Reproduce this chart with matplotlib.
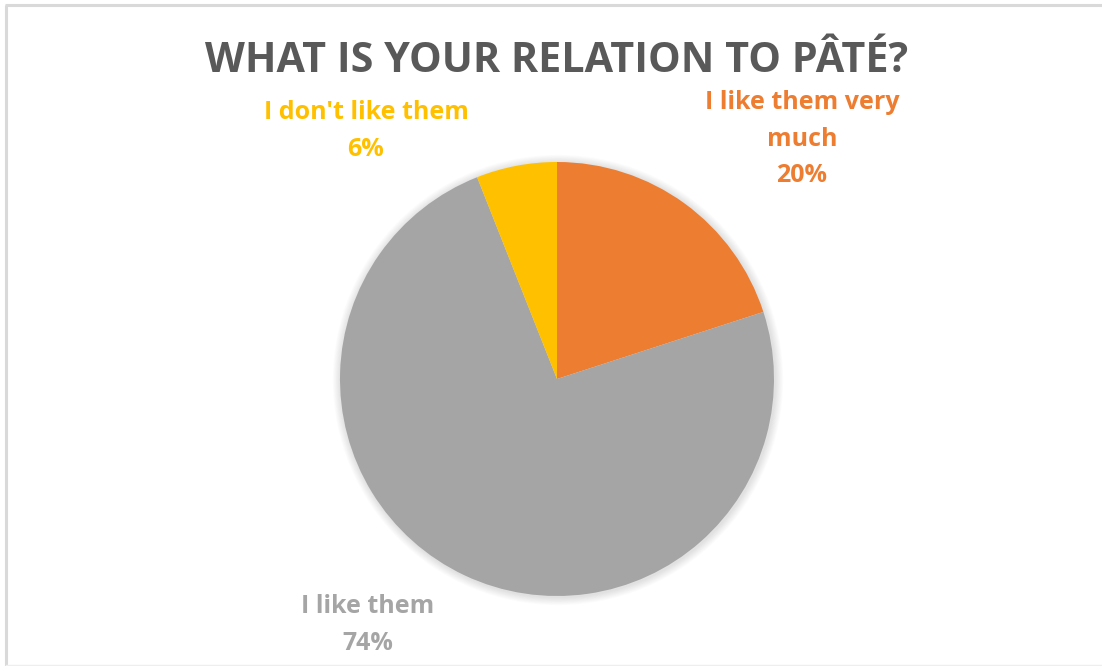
import matplotlib.pyplot as plt
from matplotlib.patches import Circle

# ============================================================
# DATA
# ============================================================
categorias = ["I like them very\nmuch", "I like them", "I don't like them"]
porcentajes = [20, 74, 6]
colores = ["#ED7D31", "#A5A5A5", "#FFC000"]
titulo = "WHAT IS YOUR RELATION TO PÂTÉ?"

# ============================================================
# FIGURE (pixel coordinates, y up)
# ============================================================
W, H = 1102, 666
fig = plt.figure(figsize=(W / 100, H / 100), dpi=100)
ax = fig.add_axes([0, 0, 1, 1])

cx, cy, r = 557, H - 379, 217

# soft shadow behind the pie
for i in range(10):
    ax.add_patch(Circle((cx + 1, cy - 1), r + 1 + i * 0.8, color="black",
                        alpha=0.012, lw=0, zorder=0))

ax.pie(porcentajes, colors=colores, startangle=90, counterclock=False,
       center=(cx, cy), radius=r, frame=True,
       wedgeprops=dict(linewidth=0))
ax.set_xlim(0, W)
ax.set_ylim(0, H)
ax.set_aspect("equal")
ax.axis("off")

fuente = ["Open Sans", "DejaVu Sans"]

# labels
posiciones = [(802, H - 139), (368, H - 625), (366, H - 131)]
for nombre, pct, col, (x, y) in zip(categorias, porcentajes, colores, posiciones):
    ax.text(x, y, f"{nombre}\n{pct}%", ha="center", va="center", color=col,
            fontsize=18, fontweight="bold", family=fuente, linespacing=1.58)

ax.text(557, H - 62, titulo, ha="center", va="center", color="#595959",
        fontsize=29.7, fontweight="bold", family=fuente)

# chart frame
ax.plot([6, 6], [0, H - 5], color="#D9D9D9", lw=2.2, solid_capstyle="butt")
ax.plot([5, W], [H - 5, H - 5], color="#D9D9D9", lw=2.2, solid_capstyle="butt")
ax.plot([6, W], [1, 1], color="#EEEEEE", lw=1)

fig.savefig("out.png", dpi=100)
